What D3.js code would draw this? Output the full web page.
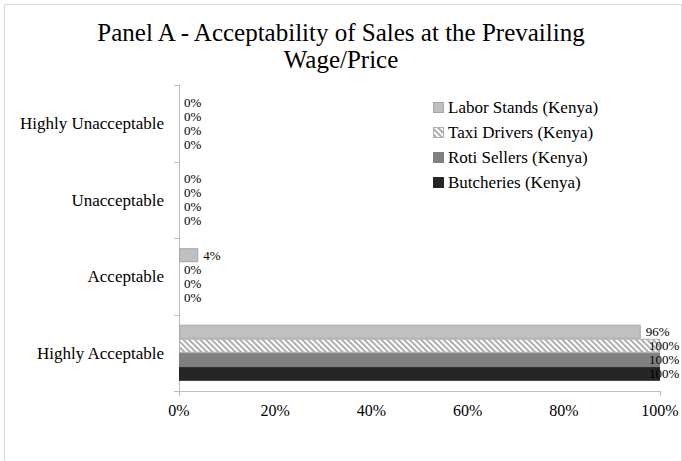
<!DOCTYPE html>
<html>
<head>
<meta charset="utf-8">
<script src="https://cdn.jsdelivr.net/npm/d3@7"></script>
<style>
  body { margin: 0; background: #fff; }
  text { font-family: "Liberation Serif", "Times New Roman", serif; fill: #000; }
</style>
</head>
<body>
<div id="chart"></div>
<script>
// chart data
var categories = ["Highly Unacceptable", "Unacceptable", "Acceptable", "Highly Acceptable"];
var seriesNames = ["Labor Stands (Kenya)", "Taxi Drivers (Kenya)", "Roti Sellers (Kenya)", "Butcheries (Kenya)"];
var laborStands = [0, 0, 0.04, 0.96];
var taxiDrivers = [0, 0, 0, 1];
var rotiSellers = [0, 0, 0, 1];
var butcheries = [0, 0, 0, 1];
var xTicks = [0, 0.2, 0.4, 0.6, 0.8, 1];

var seriesValues = [laborStands, taxiDrivers, rotiSellers, butcheries];

//svg dimensions
var svgWidth = 682;
var svgHeight = 461;
var margin = { top: 85, right: 22, bottom: 70, left: 179 };
var width = svgWidth - margin.left - margin.right;
var height = svgHeight - margin.top - margin.bottom;

var svg = d3.select("#chart")
    .append("svg")
    .attr("width", svgWidth)
    .attr("height", svgHeight);

//hatch pattern for taxi drivers
var defs = svg.append("defs");
var pattern = defs.append("pattern")
    .attr("id", "hatch")
    .attr("patternUnits", "userSpaceOnUse")
    .attr("width", 4)
    .attr("height", 4)
    .attr("patternTransform", "rotate(45)");
pattern.append("rect").attr("width", 4).attr("height", 4).attr("fill", "#fff");
pattern.append("line")
    .attr("x1", 0).attr("y1", 1).attr("x2", 4).attr("y2", 1)
    .attr("stroke", "#9a9a9a").attr("stroke-width", 1.6);

var fills = ["#c0c0c0", "url(#hatch)", "#808080", "#262626"];
var strokes = ["#a6a6a6", "#b0b0b0", "#808080", "#262626"];

//outer border
svg.append("rect")
    .attr("x", 4.5).attr("y", 4.5)
    .attr("width", svgWidth - 5).attr("height", svgHeight - 4)
    .attr("fill", "none")
    .attr("stroke", "#d9d9d9");

//title
var title = svg.append("text")
    .attr("text-anchor", "middle")
    .style("font-size", "25px");
title.append("tspan").attr("x", 341).attr("y", 41).text("Panel A - Acceptability of Sales at the Prevailing");
title.append("tspan").attr("x", 341).attr("y", 68).text("Wage/Price");

var chartGroup = svg.append("g")
    .attr("transform", `translate(${margin.left}, ${margin.top})`);

//scales
var xScale = d3.scaleLinear().domain([0, 1]).range([0, width]);
var yScale = d3.scaleBand().domain(categories).range([0, height]).padding(0);
var ySub = d3.scaleBand().domain(d3.range(seriesNames.length))
    .range([0, yScale.bandwidth()]).paddingInner(0).paddingOuter(0.73);

//x axis line
chartGroup.append("line")
    .attr("x1", -5).attr("x2", width + 1)
    .attr("y1", height + 0.5).attr("y2", height + 0.5)
    .attr("stroke", "#bfbfbf");
chartGroup.append("line")
    .attr("x1", width + 0.5).attr("x2", width + 0.5)
    .attr("y1", height).attr("y2", height + 5)
    .attr("stroke", "#bfbfbf");

//y axis
chartGroup.append("line")
    .attr("x1", 0.5).attr("x2", 0.5)
    .attr("y1", 0).attr("y2", height + 5)
    .attr("stroke", "#bfbfbf");
chartGroup.selectAll(".ytick")
    .data(d3.range(categories.length + 1))
    .enter()
    .append("line")
    .attr("x1", -5).attr("x2", 0)
    .attr("y1", d => Math.round(d * yScale.step()) + 0.5)
    .attr("y2", d => Math.round(d * yScale.step()) + 0.5)
    .attr("stroke", "#bfbfbf");

//category labels
chartGroup.selectAll(".catLabel")
    .data(categories)
    .enter()
    .append("text")
    .attr("x", -15)
    .attr("y", d => yScale(d) + yScale.bandwidth() / 2)
    .attr("dy", "0.35em")
    .attr("text-anchor", "end")
    .style("font-size", "17px")
    .text(d => d);

//x tick labels
chartGroup.selectAll(".xLabel")
    .data(xTicks)
    .enter()
    .append("text")
    .attr("x", d => xScale(d))
    .attr("y", height + 25)
    .attr("text-anchor", "middle")
    .style("font-size", "16px")
    .text(d => d3.format(".0%")(d));

//bars and value labels
seriesValues.forEach(function(values, i) {
    var rows = values.map((v, j) => ({ value: v, cat: categories[j] }));
    var g = chartGroup.append("g");
    g.selectAll("rect")
        .data(rows.filter(d => d.value > 0))
        .enter()
        .append("rect")
        .attr("x", 0.5)
        .attr("y", d => yScale(d.cat) + ySub(i) + 0.5)
        .attr("width", d => xScale(d.value) - 1)
        .attr("height", ySub.bandwidth() - 1)
        .attr("fill", fills[i])
        .attr("stroke", strokes[i]);

    g.selectAll("text")
        .data(rows)
        .enter()
        .append("text")
        .attr("x", d => Math.min(xScale(d.value) + 5, width - 11))
        .attr("y", d => yScale(d.cat) + ySub(i) + ySub.bandwidth() / 2)
        .attr("dy", "0.35em")
        .style("font-size", "13px")
        .text(d => d3.format(".0%")(d.value));
});

//legend
var legend = svg.append("g")
    .attr("transform", "translate(433, 102)");
seriesNames.forEach(function(name, i) {
    var row = legend.append("g").attr("transform", `translate(0, ${i * 25})`);
    row.append("rect")
        .attr("x", 0.5).attr("y", 0.5)
        .attr("width", 10).attr("height", 10)
        .attr("fill", fills[i])
        .attr("stroke", strokes[i]);
    row.append("text")
        .attr("x", 15)
        .attr("y", 5.5)
        .attr("dy", "0.35em")
        .style("font-size", "17px")
        .text(name);
});
</script>
</body>
</html>
